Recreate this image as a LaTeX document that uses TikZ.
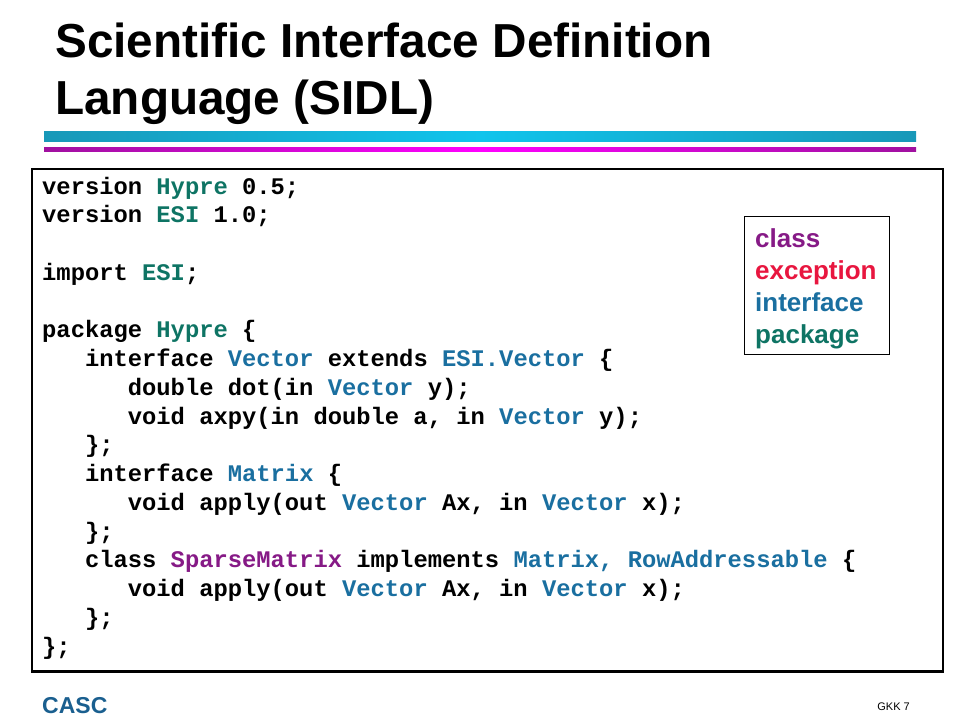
\documentclass[tikz,border=0pt]{standalone}
\usepackage{fontspec}
\setmainfont{Liberation Sans}
\newfontfamily\codefamily{Liberation Mono}
\usepackage{xcolor}
\usetikzlibrary{positioning}

\definecolor{pkgcol}{HTML}{0E7464}
\definecolor{ifccol}{HTML}{1A6FA0}
\definecolor{clscol}{HTML}{861A86}
\definecolor{exccol}{HTML}{E8163F}
\definecolor{casccol}{HTML}{1A5F8F}
\definecolor{barcyanend}{HTML}{1898B8}
\definecolor{barcyanmid}{HTML}{10C4EC}
\definecolor{barmagend}{HTML}{A0109F}
\definecolor{barmagmid}{HTML}{FF00FF}
\newcommand\kwpkg[1]{\textcolor{pkgcol}{#1}}
\newcommand\kwifc[1]{\textcolor{ifccol}{#1}}
\newcommand\kwcls[1]{\textcolor{clscol}{#1}}
\newcommand\ind{\hspace*{1.8em}}

\tikzset{
  codeline/.style={anchor=base west, inner sep=0pt,
    font=\codefamily\bfseries\fontsize{23.8}{28.75}\selectfont},
  legendline/.style={anchor=base west, inner sep=0pt,
    font=\bfseries\fontsize{26}{32}\selectfont}
}

\begin{document}
\begin{tikzpicture}[x=1pt,y=-1pt]
      \useasboundingbox (0,0) rectangle (960,720);
      % title
      \node[anchor=base west, inner sep=0pt, font=\bfseries\fontsize{47.7}{57}\selectfont] (title1) at (55,57) {Scientific Interface Definition};
      \node[anchor=base west, inner sep=0pt, font=\bfseries\fontsize{47.7}{57}\selectfont] (title2) at (55,114) {Language (SIDL)};
      \shade[left color=barcyanend, right color=barcyanend, middle color=barcyanmid] (44,131.5) rectangle (916,141.5);
      \shade[left color=barmagend, right color=barmagend, middle color=barmagmid] (44,147) rectangle (916,151.5);
      % code box
      \draw[line width=2.5pt] (32,169) rectangle (943,671.5);
      \node[codeline] (c1) at (42,194) {version \kwpkg{Hypre} 0.5;};
      \node[codeline] (c2) at (42,222.75) {version \kwpkg{ESI} 1.0;};
      \node[codeline] (c4) at (42,280.25) {import \kwpkg{ESI};};
      \node[codeline] (c6) at (42,337.75) {package \kwpkg{Hypre} \{};
      \node[codeline] (c7) at (42,366.5) {\ind interface \kwifc{Vector} extends \kwifc{ESI.Vector} \{};
      \node[codeline] (c8) at (42,395.25) {\ind\ind double dot(in \kwifc{Vector} y);};
      \node[codeline] (c9) at (42,424) {\ind\ind void axpy(in double a, in \kwifc{Vector} y);};
      \node[codeline] (c10) at (42,452.75) {\ind \};};
      \node[codeline] (c11) at (42,481.5) {\ind interface \kwifc{Matrix} \{};
      \node[codeline] (c12) at (42,510.25) {\ind\ind void apply(out \kwifc{Vector} Ax, in \kwifc{Vector} x);};
      \node[codeline] (c13) at (42,539) {\ind \};};
      \node[codeline] (c14) at (42,567.75) {\ind class \kwcls{SparseMatrix} implements \kwifc{Matrix, RowAddressable} \{};
      \node[codeline] (c15) at (42,596.5) {\ind\ind void apply(out \kwifc{Vector} Ax, in \kwifc{Vector} x);};
      \node[codeline] (c16) at (42,625.25) {\ind \};};
      \node[codeline] (c17) at (42,654) {\};};
      % legend
      \draw[line width=1pt] (744,216) rectangle (889,354);
      \node[legendline, text=clscol] (lclass) at (755,247) {class};
      \node[legendline, text=exccol] (lexc) at (755,279) {exception};
      \node[legendline, text=ifccol] (lifc) at (755,311) {interface};
      \node[legendline, text=pkgcol] (lpkg) at (755,343) {package};
      % footer
      \node[anchor=base west, inner sep=0pt, text=casccol, font=\bfseries\fontsize{23}{28}\selectfont] (casc) at (42,713) {CASC};
      \node[anchor=base east, inner sep=0pt, font=\fontsize{11}{13}\selectfont] (page) at (910,710) {GKK 7};
    \end{tikzpicture}
\end{document}
